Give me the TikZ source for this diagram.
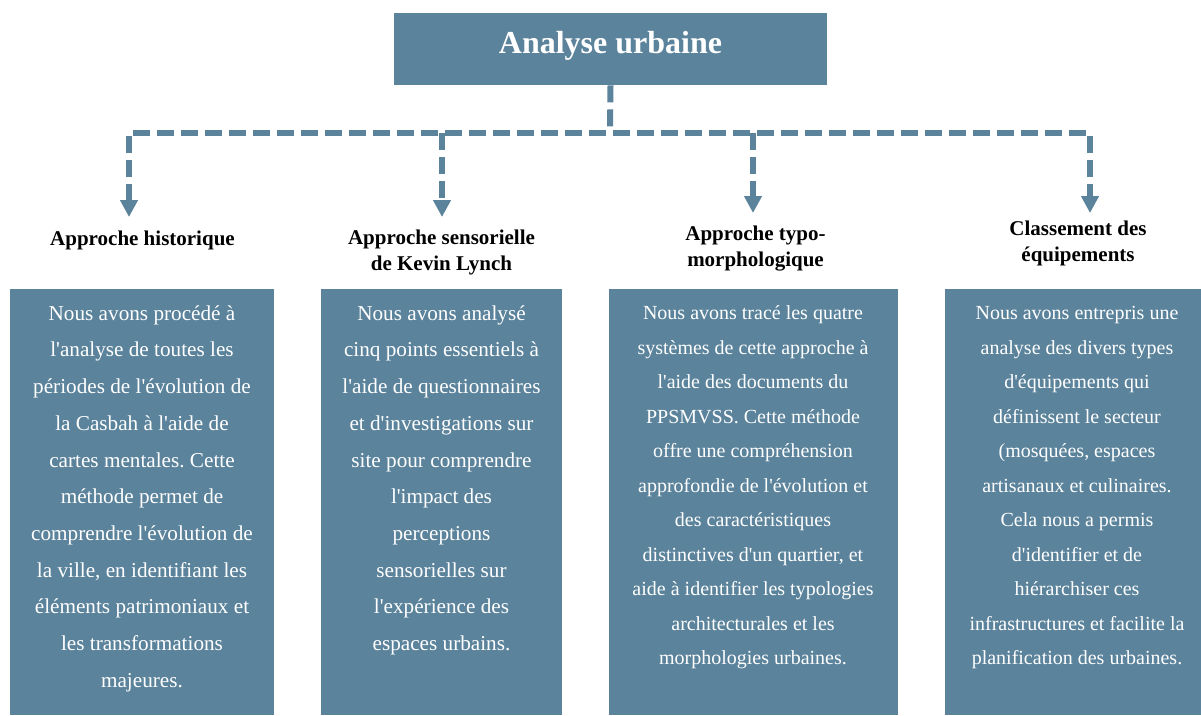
\documentclass[tikz,border=0pt]{standalone}
\usepackage{fontspec}
\setmainfont{Liberation Serif}[Ligatures=TeXOff]
\usetikzlibrary{arrows.meta}
\definecolor{steel}{RGB}{91,131,155}
\newcommand{\topstrut}{\rule{0pt}{16pt}}
\frenchspacing
\begin{document}
\begin{tikzpicture}[x=1pt,y=-1pt,
  panel/.style={fill=steel, draw=none, inner sep=0pt, anchor=north west},
  bodybig/.style={text=white, align=center, inner sep=0pt, anchor=north, font=\fontsize{21.2}{36.7}\selectfont},
  bodysmall/.style={text=white, align=center, inner sep=0pt, anchor=north, font=\fontsize{20}{34.5}\selectfont},
  head/.style={font=\bfseries\fontsize{21}{26}\selectfont, align=center, inner sep=0pt, anchor=north},
  conn/.style={draw=steel, line width=6pt, dash pattern=on 17pt off 7pt},
  tip/.style={-{Triangle[width=17pt,length=17pt]}},
  tips/.style={{Triangle[width=17pt,length=17pt]}-{Triangle[width=17pt,length=17pt]}}
]
\useasboundingbox (0,0) rectangle (1201,715);

% title
\node[fill=steel, text=white, font=\bfseries\fontsize{32}{38}\selectfont,
      minimum width=433pt, inner xsep=0pt, inner ysep=20pt,
      text height=20pt, text depth=12pt, anchor=north] (title) at (610.5,13) {Analyse urbaine};

% connectors
\coordinate (hub) at (610,133);
\coordinate (c1) at (129,133);
\coordinate (c2) at (442,133);
\coordinate (c3) at (753,133);
\coordinate (c4) at (1090,133);
\coordinate (a1) at (129,217);
\coordinate (a2) at (442,217);
\coordinate (a3) at (753,213);
\coordinate (a4) at (1090,213);

\draw[conn] (title.south) -- (hub);
\draw[conn, tips, line join=miter] (a1) -- (c1) -- (c4) -- (a4);
\draw[conn, tip] (c2) -- (a2);
\draw[conn, tip] (c3) -- (a3);

% headings
\node[head] (h1) at (142.5,229) {\topstrut Approche historique};
\node[head] (h2) at (441.5,228) {\topstrut Approche sensorielle\\de Kevin Lynch};
\node[head] (h3) at (755.5,224) {\topstrut Approche typo-\\morphologique};
\node[head] (h4) at (1078,219) {\topstrut Classement des\\équipements};

% panels
\node[panel, minimum width=264pt, minimum height=426pt] (p1) at (10,289) {};
\node[panel, minimum width=241pt, minimum height=426pt] (p2) at (321,289) {};
\node[panel, minimum width=289pt, minimum height=426pt] (p3) at (609,289) {};
\node[panel, minimum width=256pt, minimum height=426pt] (p4) at (945,289) {};

% texts
\node[bodybig] (t1) at (142,304) {\topstrut Nous avons procédé à\\l'analyse de toutes les\\périodes de l'évolution de\\la Casbah à l'aide de\\cartes mentales. Cette\\méthode permet de\\comprendre l'évolution de\\la ville, en identifiant les\\éléments patrimoniaux et\\les transformations\\majeures.};
\node[bodybig] (t2) at (441.5,304) {\topstrut Nous avons analysé\\cinq points essentiels à\\l'aide de questionnaires\\et d'investigations sur\\site pour comprendre\\l'impact des\\perceptions\\sensorielles sur\\l'expérience des\\espaces urbains.};
\node[bodysmall] (t3) at (753,303.5) {\topstrut Nous avons tracé les quatre\\systèmes de cette approche à\\l'aide des documents du\\PPSMVSS. Cette méthode\\offre une compréhension\\approfondie de l'évolution et\\des caractéristiques\\distinctives d'un quartier, et\\aide à identifier les typologies\\architecturales et les\\morphologies urbaines.};
\node[bodysmall] (t4) at (1077,303.5) {\topstrut Nous avons entrepris une\\analyse des divers types\\d'équipements qui\\définissent le secteur\\(mosquées, espaces\\artisanaux et culinaires.\\Cela nous a permis\\d'identifier et de\\hiérarchiser ces\\infrastructures et facilite la\\planification des urbaines.};
\end{tikzpicture}
\end{document}
